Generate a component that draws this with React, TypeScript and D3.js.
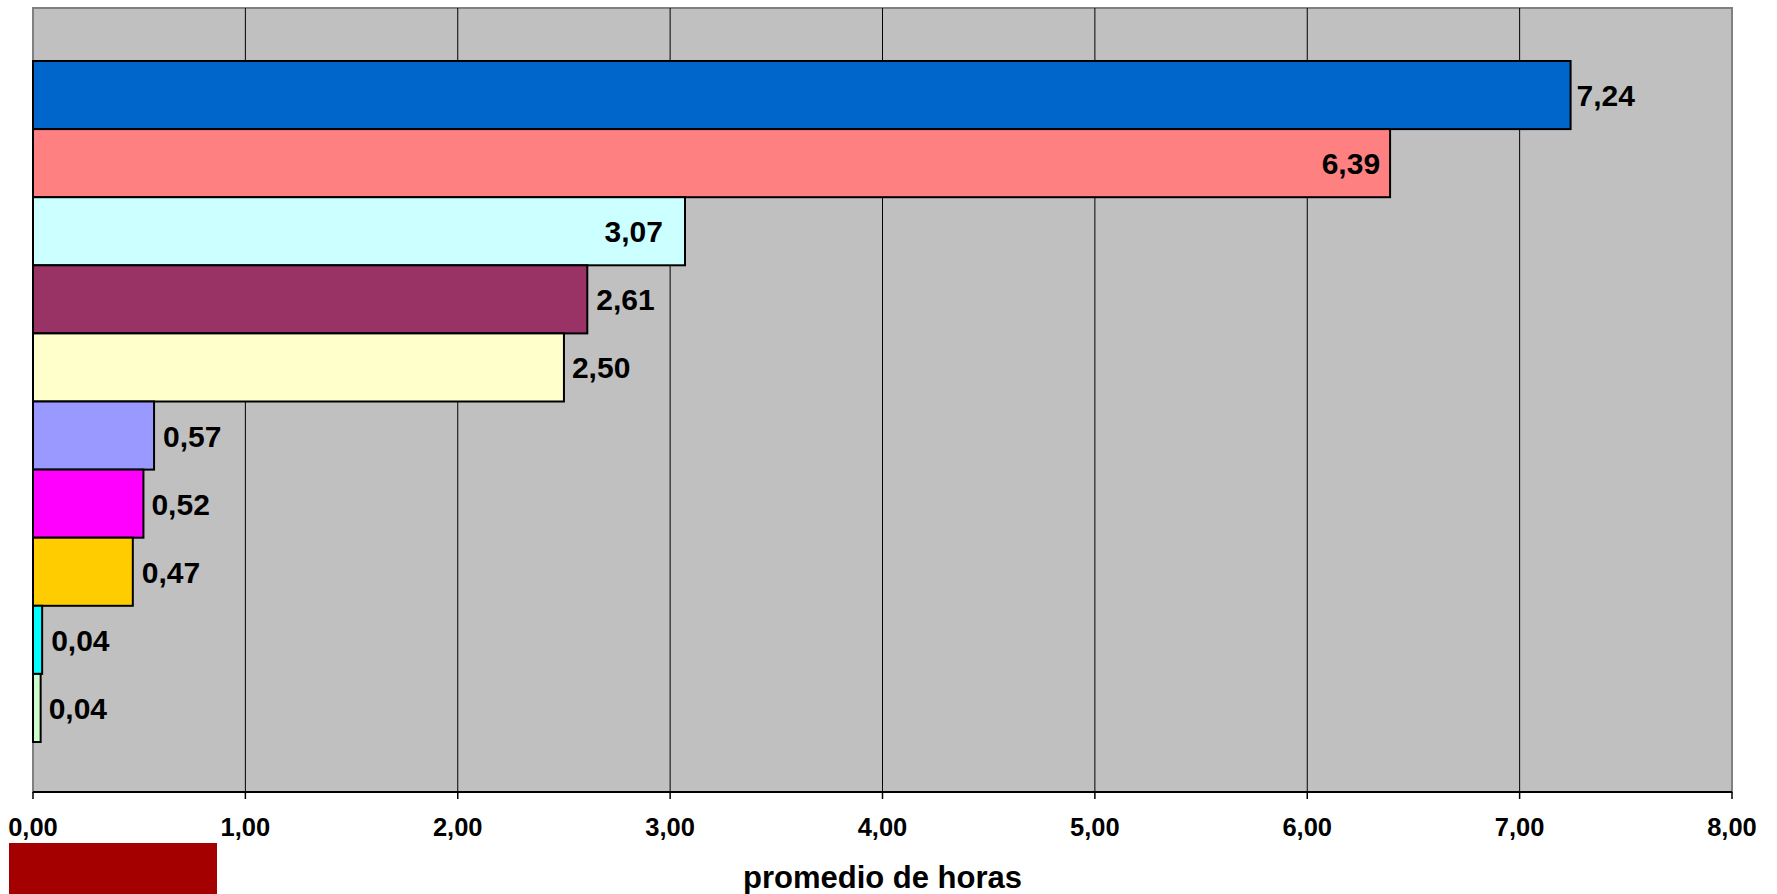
import React from "react";
import * as d3 from "d3";

const seriesNames = ["Serie 1", "Serie 2", "Serie 3", "Serie 4", "Serie 5", "Serie 6", "Serie 7", "Serie 8", "Serie 9", "Serie 10"];
const seriesValues = [7.24, 6.39, 3.07, 2.61, 2.5, 0.57, 0.52, 0.47, 0.043, 0.036];
const seriesColors = ["#0066CC", "#FF8080", "#CCFFFF", "#993366", "#FFFFCC", "#9999FF", "#FF00FF", "#FFCC00", "#00FFFF", "#CCFFCC"];
const xTicks = [0, 1, 2, 3, 4, 5, 6, 7, 8];
const axisTitle = "promedio de horas";
// label offset from bar end (negative = inside, right-aligned)
const labelDx = [6, -10, -22, 9, 8, 9, 8, 9, 9, 8];

const W = 1777;
const H = 894;
const plot = { left: 33, right: 1732, top: 8, bottom: 792 };
const barsTop = 61;
const barsBottom = 742;
const FONT = "Arial, 'Liberation Sans', Helvetica, sans-serif";

const fmt = (v: number) => v.toFixed(2).replace(".", ",");

export default function App() {
  const x = d3.scaleLinear().domain([0, 8]).range([plot.left, plot.right]);
  const y = d3.scaleBand<string>().domain(seriesNames).range([barsTop, barsBottom]).padding(0);
  const bh = y.bandwidth();

  return (
    <svg
      width={W}
      height={H}
      style={{ position: "absolute", left: 0, top: 0, display: "block", background: "#fff" }}
    >
      <rect x={plot.left} y={plot.top} width={plot.right - plot.left} height={plot.bottom - plot.top} fill="#C0C0C0" stroke="#808080" strokeWidth={2} />
      {xTicks.slice(1, -1).map((t) => (
        <line key={"g" + t} x1={x(t)} x2={x(t)} y1={plot.top} y2={plot.bottom} stroke="#000" strokeWidth={1} />
      ))}
      {seriesNames.map((n, i) => (
        <rect
          key={n}
          x={x(0)}
          y={y(n)}
          width={x(seriesValues[i]) - x(0)}
          height={bh}
          fill={seriesColors[i]}
          stroke="#000"
          strokeWidth={2}
        />
      ))}
      {seriesNames.map((n, i) => {
        const dx = labelDx[i];
        return (
          <text
            key={"l" + n}
            x={x(seriesValues[i]) + dx}
            y={(y(n) as number) + bh / 2 + 11}
            textAnchor={dx < 0 ? "end" : "start"}
            fontFamily={FONT}
            fontWeight="bold"
            fontSize={30}
            fill="#000"
          >
            {fmt(seriesValues[i])}
          </text>
        );
      })}
      <line x1={plot.left} x2={plot.right} y1={plot.bottom} y2={plot.bottom} stroke="#000" strokeWidth={2} />
      {xTicks.map((t) => (
        <g key={"t" + t}>
          <line x1={x(t)} x2={x(t)} y1={plot.bottom} y2={plot.bottom + 7} stroke="#000" strokeWidth={1.5} />
          <text x={x(t)} y={836} textAnchor="middle" fontFamily={FONT} fontWeight="bold" fontSize={25.5} fill="#000">
            {fmt(t)}
          </text>
        </g>
      ))}
      <text x={(plot.left + plot.right) / 2} y={888} textAnchor="middle" fontFamily={FONT} fontWeight="bold" fontSize={31} fill="#000">
        {axisTitle}
      </text>
      <rect x={9} y={843} width={208} height={60} fill="#A50000" />
    </svg>
  );
}
